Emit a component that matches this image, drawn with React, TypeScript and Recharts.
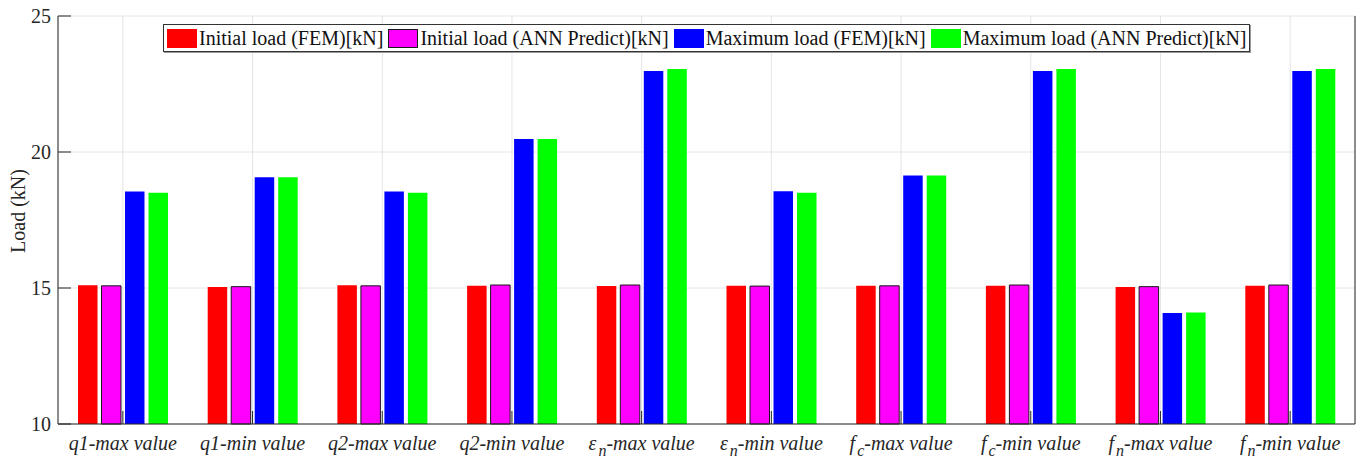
import React from "react"
import { BarChart, Bar, XAxis, YAxis, CartesianGrid, Legend } from "recharts"

const CATEGORIES = [
  "q1-max value",
  "q1-min value",
  "q2-max value",
  "q2-min value",
  "ε_n-max value",
  "ε_n-min value",
  "f_c-max value",
  "f_c-min value",
  "f_n-max value",
  "f_n-min value",
]

const INITIAL_FEM = [15.1, 15.04, 15.1, 15.08, 15.07, 15.08, 15.08, 15.08, 15.04, 15.08]
const INITIAL_ANN = [15.08, 15.05, 15.08, 15.11, 15.11, 15.07, 15.08, 15.11, 15.05, 15.11]
const MAX_FEM = [18.55, 19.07, 18.55, 20.48, 22.98, 18.56, 19.14, 22.98, 14.08, 22.98]
const MAX_ANN = [18.5, 19.07, 18.5, 20.48, 23.05, 18.5, 19.14, 23.05, 14.1, 23.05]

const Y_TICKS = [10, 15, 20, 25]

const SERIES = [
  { key: "initFem", name: "Initial load (FEM)[kN]", color: "#ff0000", stroke: "none" },
  { key: "initAnn", name: "Initial load (ANN Predict)[kN]", color: "#ff00ff", stroke: "#1a1a1a" },
  { key: "maxFem", name: "Maximum load (FEM)[kN]", color: "#0000ff", stroke: "none" },
  { key: "maxAnn", name: "Maximum load (ANN Predict)[kN]", color: "#00ff00", stroke: "none" },
]

const data = CATEGORIES.map((name, i) => ({
  name,
  initFem: INITIAL_FEM[i],
  initAnn: INITIAL_ANN[i],
  maxFem: MAX_FEM[i],
  maxAnn: MAX_ANN[i],
}))

const FONT = "Liberation Serif"
const AXIS = "#262626"

function XTick(props: any) {
  const { x, payload } = props
  const label: string = payload.value
  const parts = label.match(/^(.)_(.)(.*)$/)
  return (
    <text
      x={x}
      y={450}
      textAnchor="middle"
      style={{ fontFamily: FONT, fontStyle: "italic", fontSize: 20 }}
      fill={AXIS}
    >
      {parts ? (
        <>
          <tspan>{parts[1]}</tspan>
          <tspan dx={2} dy={6} style={{ fontSize: 16 }}>{parts[2]}</tspan>
          <tspan dy={-6}>{parts[3]}</tspan>
        </>
      ) : (
        label
      )}
    </text>
  )
}

function YLabel() {
  return (
    <text
      x={25}
      y={211}
      transform="rotate(-90 25 211)"
      textAnchor="middle"
      style={{ fontFamily: FONT, fontSize: 20 }}
      fill={AXIS}
    >
      Load (kN)
    </text>
  )
}

function LegendBox() {
  return (
    <div
      style={{
        display: "flex",
        alignItems: "center",
        height: 26,
        border: "1px solid #333",
        background: "#fff",
        boxShadow: "1px 1px 0 #999",
        paddingLeft: 3,
        paddingRight: 3,
        fontFamily: FONT,
        fontSize: 20,
        color: "#111",
        whiteSpace: "nowrap",
      }}
    >
      {SERIES.map((s, i) => (
        <div key={s.key} style={{ display: "flex", alignItems: "center", marginLeft: i === 0 ? 0 : 5 }}>
          <span
            style={{
              display: "inline-block",
              width: 30,
              height: 19,
              background: s.color,
              boxSizing: "border-box",
              border: s.stroke === "none" ? "none" : `1px solid ${s.stroke}`,
              marginRight: 2,
            }}
          />
          <span>{s.name}</span>
        </div>
      ))}
    </div>
  )
}

export default function App() {
  return (
    <div style={{ position: "absolute", left: 0, top: 0, width: 1362, height: 459, background: "#fff" }}>
      <BarChart
        width={1362}
        height={459}
        data={data}
        margin={{ top: 16, right: 0, bottom: 0, left: 0 }}
        barSize={19.5}
        barGap={4}
      >
        <CartesianGrid stroke="#e4e4e4" strokeWidth={1} />
        <XAxis
          dataKey="name"
          height={35}
          interval={0}
          tick={<XTick />}
          tickSize={-13}
          tickLine={{ stroke: AXIS }}
          axisLine={{ stroke: AXIS }}
        />
        <XAxis
          xAxisId="top"
          dataKey="name"
          orientation="top"
          height={0}
          interval={0}
          tick={false}
          tickSize={-13}
          tickLine={{ stroke: AXIS }}
          axisLine={{ stroke: "#555" }}
        />
        <YAxis
          domain={[10, 25]}
          ticks={Y_TICKS}
          width={58}
          tickSize={-13}
          tickMargin={20}
          tickLine={{ stroke: AXIS }}
          axisLine={{ stroke: AXIS }}
          tick={{ fill: AXIS, fontSize: 20, fontFamily: FONT }}
          label={<YLabel />}
        />
        <YAxis
          yAxisId="right"
          orientation="right"
          domain={[10, 25]}
          ticks={Y_TICKS}
          width={7}
          tick={false}
          tickSize={-13}
          tickLine={{ stroke: AXIS }}
          axisLine={{ stroke: AXIS }}
        />
        <Legend
          layout="horizontal"
          verticalAlign="middle"
          align="center"
          content={() => <LegendBox />}
          wrapperStyle={{ position: "absolute", top: 24, left: 163, width: "auto" }}
        />
        {SERIES.map((s) => (
          <Bar
            key={s.key}
            dataKey={s.key}
            name={s.name}
            fill={s.color}
            stroke={s.stroke}
            strokeWidth={s.stroke === "none" ? 0 : 1}
            isAnimationActive={false}
          />
        ))}
      </BarChart>
    </div>
  )
}
